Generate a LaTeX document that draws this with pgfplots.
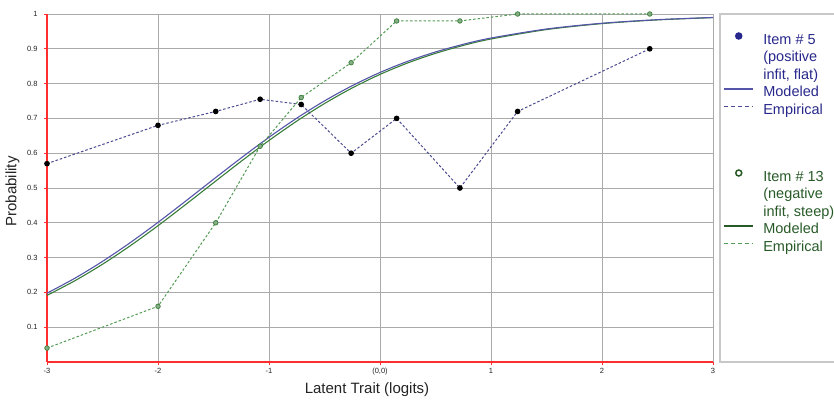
\documentclass[border=0pt]{standalone}
\usepackage{pgfplots}
\pgfplotsset{compat=1.18}
\usepackage{fontspec}
\setmainfont{Liberation Sans}
\definecolor{navyline}{RGB}{85,85,170}
\definecolor{navyemp}{RGB}{75,75,145}
\definecolor{navytext}{RGB}{40,40,140}
\definecolor{grnline}{RGB}{55,125,55}
\definecolor{grnemp}{RGB}{85,155,85}
\definecolor{grntext}{RGB}{40,90,40}
\definecolor{grnmark}{RGB}{135,175,135}
\definecolor{gridgray}{RGB}{170,170,170}
\definecolor{axred}{RGB}{255,45,45}
\definecolor{boxgray}{RGB}{200,200,200}
\definecolor{lblgray}{RGB}{35,35,35}
\pgfplotsset{
  legblank/.style={legend image code/.code={\path[draw=none] (0pt,0pt) -- (29pt,0pt);}},
  legdot/.style={legend image code/.code={\path[draw=none] (0pt,0pt) -- (29pt,0pt); \fill[navytext, draw=none] (15pt,4.5pt) circle (3.8pt);}},
  legcirc/.style={legend image code/.code={\path[draw=none] (0pt,0pt) -- (29pt,0pt); \draw[grntext, line width=1.5pt, fill=white] (15pt,4.5pt) circle (3pt);}},
  legnavyline/.style={legend image code/.code={\draw[navyline, line width=1.1pt] (0pt,4pt) -- (29pt,4pt);}},
  legnavydash/.style={legend image code/.code={\draw[navyemp, line width=1.1pt, dash pattern=on 4pt off 3pt] (0pt,4pt) -- (29pt,4pt);}},
  leggrnline/.style={legend image code/.code={\draw[grntext, line width=1.1pt] (0pt,4pt) -- (29pt,4pt);}},
  leggrndash/.style={legend image code/.code={\draw[grnemp, line width=1.1pt, dash pattern=on 4pt off 3pt] (0pt,4pt) -- (29pt,4pt);}},
}
\begin{document}
\begin{tikzpicture}
\path[use as bounding box] (0,0) rectangle (834pt,399pt);
\draw[boxgray, line width=1.3pt] (720pt,37pt) rectangle (850pt,385pt);
\begin{axis}[
  at={(47pt,37pt)}, anchor=south west,
  scale only axis, width=666pt, height=348pt,
  xmin=-3, xmax=3, ymin=0, ymax=1,
  clip=false,
  axis lines=left,
  axis line style={axred, line width=1.6pt, -},
  xtick={-3,-2,-1,0,1,2,3},
  xticklabels={-3,-2,-1,{(0,0)},1,2,3},
  ytick={0.1,0.2,0.3,0.4,0.5,0.6,0.7,0.8,0.9,1},
  yticklabels={0.1,0.2,0.3,0.4,0.5,0.6,0.7,0.8,0.9,1},
  grid=major,
  major grid style={gridgray, line width=0.8pt},
  tick align=outside, major tick length=3pt,
  tick style={axred, line width=0.8pt},
  ticklabel style={font=\fontsize{7.5}{9}\selectfont, text=lblgray},
  yticklabel style={xshift=-3pt},
  legend style={at={(1,1)}, anchor=north west, xshift=10pt, yshift=-18pt,
    draw=none, fill=none, inner sep=0pt, row sep=3pt, column sep=10pt,
    font=\fontsize{14.5}{17}\selectfont,
    nodes={inner sep=0pt, text height=11pt, text depth=3.5pt}},
  legend cell align=left,
]
% modeled curves
\addplot[grnline, line width=1.1pt, smooth, forget plot] coordinates {
(-3,0.1915) (-2.75,0.2333) (-2.5,0.2809) (-2.25,0.3340) (-2,0.3917)
(-1.75,0.4527) (-1.5,0.5150) (-1.25,0.5769) (-1,0.6365) (-0.75,0.6921)
(-0.5,0.7427) (-0.25,0.7875) (0,0.8264) (0.25,0.8594) (0.5,0.8869)
(0.75,0.9097) (1,0.9282) (1.5,0.9552) (2,0.9724) (2.5,0.9830) (3,0.9896)};
\addplot[navyline, line width=1.1pt, smooth, forget plot] coordinates {
(-3,0.1978) (-2.75,0.2405) (-2.5,0.2891) (-2.25,0.3430) (-2,0.4013)
(-1.75,0.4626) (-1.5,0.5250) (-1.25,0.5866) (-1,0.6457) (-0.75,0.7006)
(-0.5,0.7503) (-0.25,0.7941) (0,0.8320) (0.25,0.8641) (0.5,0.8909)
(0.75,0.9129) (1,0.9309) (1.5,0.9569) (2,0.9734) (2.5,0.9837) (3,0.9900)};
% empirical item 5
\addplot[navyemp, line width=1pt, dash pattern=on 2.5pt off 2pt,
  mark=*, mark size=2.3pt, mark options={solid, fill=black, draw=black}, forget plot] coordinates {
(-3,0.57) (-2,0.68) (-1.48,0.72) (-1.08,0.755) (-0.71,0.74) (-0.26,0.60)
(0.15,0.70) (0.72,0.50) (1.24,0.72) (2.43,0.90)};
% empirical item 13
\addplot[grnemp, line width=1pt, dash pattern=on 2.5pt off 2pt,
  mark=*, mark size=2.3pt, mark options={solid, fill=grnmark, draw=grnline, line width=0.7pt}, forget plot] coordinates {
(-3,0.04) (-2,0.16) (-1.48,0.40) (-1.08,0.62) (-0.71,0.76) (-0.26,0.86)
(0.15,0.98) (0.72,0.98) (1.24,1.00) (2.43,1.00)};
% legend
\addlegendimage{legdot}
\addlegendentry[text=navytext]{Item \# 5}
\addlegendimage{legblank}
\addlegendentry[text=navytext]{(positive}
\addlegendimage{legblank}
\addlegendentry[text=navytext]{infit, flat)}
\addlegendimage{legnavyline}
\addlegendentry[text=navytext]{Modeled}
\addlegendimage{legnavydash}
\addlegendentry[text=navytext]{Empirical}
\addlegendimage{legblank}
\addlegendentry[text height=42pt]{~}
\addlegendimage{legcirc}
\addlegendentry[text=grntext]{Item \# 13}
\addlegendimage{legblank}
\addlegendentry[text=grntext]{(negative}
\addlegendimage{legblank}
\addlegendentry[text=grntext]{infit, steep)}
\addlegendimage{leggrnline}
\addlegendentry[text=grntext]{Modeled}
\addlegendimage{leggrndash}
\addlegendentry[text=grntext]{Empirical}
\end{axis}
\node[font=\fontsize{15}{18}\selectfont, text=lblgray, anchor=base] at (367pt,6pt) {Latent Trait (logits)};
\node[font=\fontsize{15}{18}\selectfont, text=lblgray, rotate=90, anchor=center] at (12.5pt,207.5pt) {Probability};
\end{tikzpicture}
\end{document}
